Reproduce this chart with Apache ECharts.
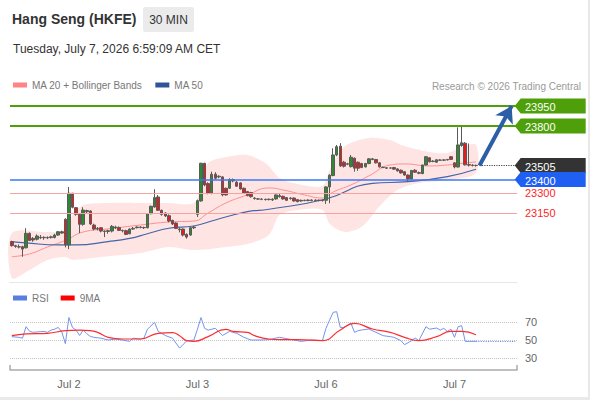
<!DOCTYPE html>
<html><head><meta charset="utf-8">
<script src="https://cdn.jsdelivr.net/npm/echarts@6/dist/echarts.min.js"></script>
<style>
html,body{margin:0;padding:0;background:#e9e9e9;}
#c{position:absolute;left:0;top:0;width:588px;height:397px;background:#fff;}
</style></head><body><div id="c"></div>
<script>
// ---- candles (30 min) ----
const open = [22936,22906,22898,22898,22890,22998,22960,22954,22968,22965,22966,22966,22967,22985,23010,23103,22911,23298,23190,23140,
23065,23160,23165,23060,23030,23040,23015,23012,23015,23045,23042,23020,23018,22995,23030,23040,23045,23042,23040,23145,
23195,23270,23170,23150,23130,23095,23075,23030,23030,22990,22985,23040,23140,23240,23522,23370,23298,23440,23420,23420,
23335,23335,23400,23380,23375,23335,23310,23303,23262,23256,23254,23252,23250,23253,23255,23280,23275,23265,23258,23262,
23250,23240,23245,23243,23247,23244,23246,23243,23245,23345,23430,23584,23650,23530,23515,23497,23560,23530,23520,23495,
23520,23555,23550,23525,23492,23488,23486,23490,23480,23470,23459,23434,23405,23470,23452,23445,23509,23563,23535,23530,
23546,23545,23547,23571,23525,23494,23655,23672,23512,23508,23506];
const close = [22906,22900,22895,22880,22998,22945,22948,22978,22965,22968,22964,22972,22985,23010,23000,22911,23298,23193,23140,23065,
23172,23168,23068,23030,23035,23015,23012,23018,23050,23040,23020,23017,22990,23030,23035,23045,23042,23040,23145,23200,
23265,23170,23140,23128,23090,23068,23035,23025,22985,22970,23040,23045,23242,23522,23360,23298,23440,23410,23425,23285,
23285,23400,23390,23350,23330,23300,23280,23272,23258,23254,23252,23250,23253,23248,23285,23272,23255,23245,23262,23240,
23235,23245,23243,23247,23244,23246,23243,23245,23345,23433,23584,23646,23502,23500,23518,23567,23485,23485,23490,23520,
23555,23550,23525,23495,23490,23485,23487,23478,23465,23450,23434,23405,23468,23455,23447,23509,23571,23533,23538,23548,
23545,23547,23550,23551,23494,23659,23675,23510,23508,23506,23505];
const low = [22898,22890,22885,22823,22885,22940,22935,22945,22955,22950,22955,22960,22960,22980,22995,22893,22880,23185,23130,23000,
23055,23150,23060,23020,23020,23005,22970,22995,23005,23030,23015,23005,22985,22990,23025,23035,23035,23030,23035,23140,
23190,23165,23130,23120,23080,23060,23030,23005,22975,22958,22980,23030,23120,23235,23350,23290,23290,23400,23410,23275,
23280,23330,23380,23345,23325,23295,23275,23265,23250,23248,23246,23244,23245,23240,23250,23265,23250,23240,23250,23235,
23230,23235,23238,23238,23238,23238,23238,23236,23218,23223,23425,23575,23495,23490,23508,23490,23459,23465,23485,23490,
23515,23545,23520,23490,23485,23480,23480,23472,23460,23445,23428,23385,23400,23450,23440,23440,23505,23528,23530,23526,
23540,23540,23543,23546,23484,23490,23645,23505,23498,23498,23497];
const high = [22943,22912,22915,22905,23036,23005,22970,22990,22985,22975,22975,22980,22995,23015,23018,23110,23345,23300,23195,23145,
23193,23175,23170,23070,23045,23045,23020,23025,23060,23055,23050,23025,23025,23035,23045,23050,23050,23048,23150,23205,
23328,23285,23175,23155,23140,23100,23080,23040,23035,22998,23045,23055,23250,23525,23525,23380,23459,23455,23432,23425,
23340,23410,23408,23390,23380,23340,23315,23308,23268,23262,23260,23258,23258,23260,23290,23295,23280,23270,23268,23266,
23255,23250,23250,23252,23252,23252,23250,23250,23350,23440,23634,23659,23672,23540,23525,23584,23565,23535,23525,23525,
23560,23562,23555,23530,23498,23493,23492,23495,23485,23475,23463,23438,23472,23478,23460,23512,23575,23568,23545,23552,
23552,23552,23555,23576,23530,23790,23795,23680,23670,23515,23512];
const futureSlots = 11;
const dayLabels = ['Jul 2', 'Jul 3', 'Jul 6', 'Jul 7'];
const dayStarts = [16, 52, 88, 124];

// ---- indicators: [bar index, value] ----
const bbUpper = [[0,22999],[10,23008],[15,23016],[17,23135],[20,23210],[27,23225],[36,23225],[44,23225],[51,23225],[53,23360],[55,23524],[60,23569],[66,23584],[70,23540],[72,23500],[75,23412],[80,23367],[87,23352],[89,23472],[93,23644],[100,23711],[106,23696],[109,23659],[117,23606],[122,23599],[126,23644],[130,23659]];
const bbLower = [[0,22664],[5,22724],[10,22799],[15,22821],[17,22799],[25,22821],[36,22851],[44,22896],[51,22873],[60,22896],[66,22918],[72,22986],[75,23135],[80,23173],[87,23173],[89,23070],[93,23010],[97,23030],[100,23100],[103,23200],[108,23322],[114,23375],[122,23397],[130,23449]];
const ma20 = [[0,22823],[5,22844],[10,22896],[15,22945],[20,23008],[27,23031],[36,23060],[44,23083],[51,23090],[55,23150],[60,23225],[66,23285],[72,23337],[76,23322],[82,23285],[87,23262],[90,23307],[95,23360],[100,23427],[106,23509],[110,23517],[117,23502],[122,23509],[127,23524],[130,23532]];
const ma50 = [[0,22936],[4,22926],[13,22911],[18,22911],[27,22936],[33,22960],[38,22995],[44,23036],[51,23053],[57,23098],[66,23160],[72,23178],[88,23255],[101,23372],[111,23384],[122,23422],[130,23477]];
const rsi = [[0,53.7],[2,53],[3,52],[4,64.8],[5,59.6],[6,58.5],[8,59.3],[9,59.6],[10,58.5],[11,61],[12,62],[13,64],[14,59],[15,46],[16,75],[17,64],[18,61],[19,55],[20,61],[21,57],[22,54],[23,53],[25,52],[27,50],[29,51],[31,50],[33,48.5],[34,52],[36,51],[37,52],[38,62],[40,69.6],[41,59.6],[43,55],[45,52],[47,41],[49,49],[51,50],[52,62],[53,75],[54,63],[55,61],[57,63],[59,55],[61,59.6],[63,57.4],[65,53],[67,50],[70,50],[72,50.4],[75,53],[78,50.7],[81,48.5],[84,50],[87,49.3],[88,63],[89,72],[90,80.7],[91,81.5],[92,64],[93,64],[95,68.5],[96,58.5],[97,60.4],[98,61.1],[100,62.2],[102,58.5],[104,54.8],[106,53.7],[107,53],[109,49.3],[110,44.8],[112,49.3],[113,52.2],[114,49.3],[116,64.8],[117,62],[119,63.3],[120,61],[121,63],[122,59.6],[123,62],[124,53],[125,64.8],[126,65.9],[127,48.5],[130,48.5]];
const rsiMa9 = [[0,54.8],[4,56.7],[10,57.4],[15,60.4],[19,61],[22,60.5],[24,58.5],[27,53],[31,51.1],[36,51.1],[41,57.4],[45,58.1],[47,54.8],[49,49.3],[51,48.5],[55,53.7],[60,61.9],[62,59.6],[66,58.5],[68,54.8],[72,51.1],[75,50.4],[80,50.4],[87,49.3],[92,61.1],[96,68.5],[101,62.2],[106,58.5],[110,53],[114,49.3],[119,53.7],[123,59.6],[126,59.6],[130,55.9]];
const rsiLevels = [30, 50, 70];

// ---- key levels ----
const resistances = [23950, 23800];
const pivotLevel = 23400;
const supports = [23300, 23150];
const target = 23950;

// ---- build ----
const FONT = '"Liberation Sans", Arial, Helvetica, sans-serif';
const GREEN = '#4e9f0a', BLUE = '#1f5ff2', DARK = '#333333', RED_T = '#ff1f1f';
const nBars = open.length;
const nSlots = nBars + futureSlots;
const lastIdx = nBars - 1, endIdx = nSlots - 1;
const cats = []; for (let i = 0; i < nSlots; i++) cats.push('b' + i);
const labelAt = {}; dayStarts.forEach((d, k) => { labelAt[d] = dayLabels[k]; });
const candles = open.map((o, i) => [o, close[i], low[i], high[i]]);
const lastClose = close[lastIdx];
const rsiLast = rsi[rsi.length - 1][1];
const TAG = 'path://M0,7.5L6,0L71,0L71,15L6,15Z';

const chart = echarts.init(document.getElementById('c'), null, {renderer: 'svg'});
chart.setOption({
  animation: false,
  textStyle: {fontFamily: FONT},
  graphic: [
    {type: 'text', x: 12, y: 19, style: {text: 'Hang Seng (HKFE)', font: 'bold 14px ' + FONT, fill: '#333', verticalAlign: 'middle'}},
    {type: 'rect', shape: {x: 143, y: 7, width: 51, height: 25, r: 2}, style: {fill: '#ebebeb'}},
    {type: 'text', x: 168.5, y: 19.5, style: {text: '30 MIN', font: '12px ' + FONT, fill: '#333', align: 'center', verticalAlign: 'middle'}},
    {type: 'text', x: 13, y: 49, style: {text: 'Tuesday, July 7, 2026 6:59:09 AM CET', font: '12px ' + FONT, fill: '#333', verticalAlign: 'middle'}},
    {type: 'text', x: 581, y: 86, style: {text: 'Research \u00a9 2026 Trading Central', font: '10px ' + FONT, fill: '#9a9a9a', align: 'right', verticalAlign: 'middle'}}
  ],
  legend: [
    {left: 13, top: 80, padding: 0, icon: 'rect', itemWidth: 14, itemHeight: 5, itemGap: 13, selectedMode: false,
     textStyle: {color: '#777', fontSize: 10, fontFamily: FONT}, data: ['MA 20 + Bollinger Bands', 'MA 50']},
    {left: 13, top: 293, padding: 0, icon: 'rect', itemWidth: 14, itemHeight: 5, itemGap: 12, selectedMode: false,
     textStyle: {color: '#777', fontSize: 10, fontFamily: FONT}, data: ['RSI', '9MA']}
  ],
  grid: [
    {left: 10, top: 96, width: 507, height: 186},
    {left: 10, top: 304, width: 507, height: 72}
  ],
  xAxis: [
    {type: 'category', gridIndex: 0, data: cats, boundaryGap: true,
     axisLine: {show: true, lineStyle: {color: '#e2e2e2', type: 'dotted'}}, axisTick: {show: false}, axisLabel: {show: false}, splitLine: {show: false}},
    {type: 'category', gridIndex: 1, data: cats, boundaryGap: true, offset: -6,
     axisLine: {show: true, lineStyle: {color: '#aaaaaa', width: 1.5}},
     axisTick: {show: true, inside: true, length: 5, interval: (i) => i === 0, lineStyle: {color: '#aaaaaa', width: 1.5}},
     axisLabel: {interval: 0, formatter: (v, i) => labelAt[i] || '', color: '#666', fontSize: 11, margin: 8, fontFamily: FONT},
     splitLine: {show: false}}
  ],
  yAxis: [
    {type: 'value', gridIndex: 0, min: 22634, max: 24025, show: false, splitLine: {show: false}},
    {type: 'value', gridIndex: 1, min: 10, max: 90, interval: 20, position: 'right',
     axisLine: {show: false}, axisTick: {show: false},
     axisLabel: {formatter: (v) => rsiLevels.indexOf(v) >= 0 ? String(v) : '', color: '#666', fontSize: 11, margin: 8, fontFamily: FONT},
     splitLine: {show: true, showMinLine: false, showMaxLine: false, lineStyle: {type: 'dotted', color: '#c4c4c4', width: 1}}}
  ],
  series: [
    {name: 'MA 20 + Bollinger Bands', type: 'custom', xAxisIndex: 0, yAxisIndex: 0, z: 1, silent: true,
     itemStyle: {color: '#ff8585'}, data: [[0, bbUpper[0][1]]],
     renderItem: (params, api) => {
       const pts = bbUpper.map(p => api.coord(p)).concat(bbLower.slice().reverse().map(p => api.coord(p)));
       return {type: 'polygon', shape: {points: pts, smooth: 0.3}, style: {fill: '#ffe4e4'}, silent: true};
     }},
    {name: 'levels', type: 'line', xAxisIndex: 0, yAxisIndex: 0, z: 2, data: [], silent: true,
     markLine: {silent: true, symbol: 'none', animation: false,
       data: [
         {yAxis: resistances[0], lineStyle: {color: GREEN, width: 2, type: 'solid'}, label: {show: false}},
         {yAxis: resistances[1], lineStyle: {color: GREEN, width: 2, type: 'solid'}, label: {show: false}},
         {yAxis: pivotLevel, lineStyle: {color: '#3b78f0', width: 1.5, type: 'solid'}, label: {show: false}},
         {yAxis: supports[0], lineStyle: {color: '#f4a2a2', width: 1.2, type: 'solid'},
          label: {show: true, position: 'end', distance: 8, formatter: String(supports[0]), color: RED_T, fontSize: 11, fontFamily: FONT}},
         {yAxis: supports[1], lineStyle: {color: '#f4a2a2', width: 1.2, type: 'solid'},
          label: {show: true, position: 'end', distance: 8, formatter: String(supports[1]), color: RED_T, fontSize: 11, fontFamily: FONT}}
       ]}},
    {name: 'MA 20 + Bollinger Bands', type: 'line', xAxisIndex: 0, yAxisIndex: 0, z: 3, data: ma20, smooth: true,
     showSymbol: false, silent: true, lineStyle: {color: '#ff8e8e', width: 1}, itemStyle: {color: '#ff8585'}},
    {name: 'MA 50', type: 'line', xAxisIndex: 0, yAxisIndex: 0, z: 3, data: ma50, smooth: true,
     showSymbol: false, silent: true, lineStyle: {color: '#4266a8', width: 1.2}, itemStyle: {color: '#2f5597'}},
    {name: 'Hang Seng', type: 'candlestick', xAxisIndex: 0, yAxisIndex: 0, z: 4, data: candles, barWidth: 3, silent: true,
     itemStyle: {color: '#2e8a2e', color0: '#e11d1d', borderColor: '#5a5a5a', borderColor0: '#5a5a5a', borderColorDoji: '#5a5a5a', borderWidth: 1}},
    {name: 'annot', type: 'line', xAxisIndex: 0, yAxisIndex: 0, z: 6, data: [], silent: true,
     markLine: {silent: true, animation: false, symbol: 'none', label: {show: false},
       data: [
         [{coord: [lastIdx + 1, lastClose], lineStyle: {color: '#444', width: 1.2, type: 'dotted'}}, {coord: [endIdx, lastClose]}]
       ]},
     markPoint: {silent: true, animation: false, symbol: TAG, symbolSize: [71, 15], symbolOffset: [35, 0],
       label: {show: true, position: 'inside', offset: [-10, 1], color: '#fff', fontSize: 11, fontFamily: FONT, formatter: (p) => String(p.value)},
       data: [
         {coord: [endIdx, resistances[0]], value: resistances[0], itemStyle: {color: GREEN}},
         {coord: [endIdx, resistances[1]], value: resistances[1], itemStyle: {color: GREEN}},
         {coord: [endIdx, lastClose], value: lastClose, itemStyle: {color: DARK}},
         {coord: [endIdx, pivotLevel], value: pivotLevel, itemStyle: {color: BLUE}}
       ]}},
    {name: 'arrow', type: 'line', xAxisIndex: 0, yAxisIndex: 0, z: 7, data: [], silent: true,
     markLine: {silent: true, animation: false, symbol: ['none', 'arrow'], symbolSize: [15, 16], label: {show: false},
       lineStyle: {color: '#2c5ea6', width: 4, type: 'solid'},
       data: [[{coord: [lastIdx + 1, lastClose]}, {coord: [endIdx - 1, target]}]]}},
    {name: 'RSI', type: 'line', xAxisIndex: 1, yAxisIndex: 1, z: 3, data: rsi, showSymbol: false, silent: true,
     lineStyle: {color: '#7394ee', width: 1}, itemStyle: {color: '#5a7de0'},
     markLine: {silent: true, animation: false, symbol: 'none', label: {show: false},
       lineStyle: {color: '#7394ee', width: 1.2, type: 'dotted'},
       data: [[{coord: [lastIdx, rsiLast]}, {coord: [endIdx, rsiLast]}]]}},
    {name: '9MA', type: 'line', xAxisIndex: 1, yAxisIndex: 1, z: 4, data: rsiMa9, smooth: true, showSymbol: false, silent: true,
     lineStyle: {color: '#ff2d2d', width: 1.2}, itemStyle: {color: '#ff0000'}}
  ]
});
</script></body></html>
